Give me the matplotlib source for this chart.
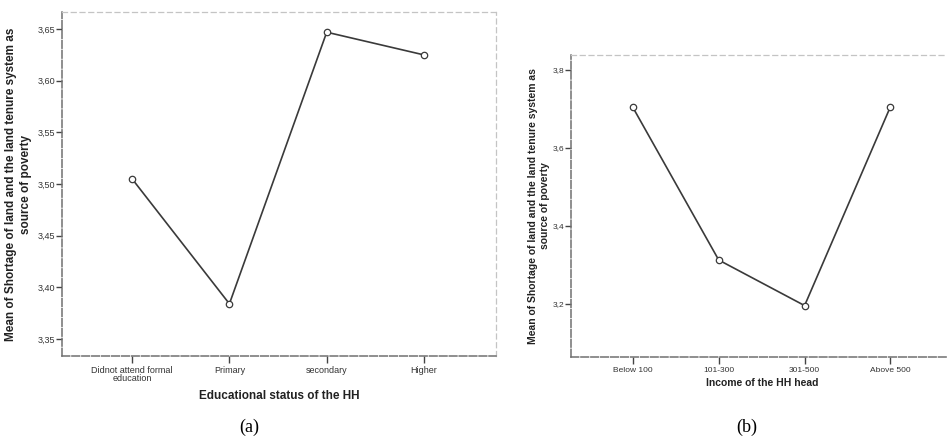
import matplotlib
matplotlib.use("Agg")
import matplotlib.pyplot as plt
from matplotlib.ticker import FuncFormatter

plt.rcParams['font.family'] = ['Liberation Sans', 'DejaVu Sans']

# panel (a)
edu_labels = ['Didnot attend formal\neducation', 'Primary', 'secondary', 'Higher']
edu_means = [3.505, 3.384, 3.647, 3.625]
edu_ticks = [3.35, 3.40, 3.45, 3.50, 3.55, 3.60, 3.65]

# panel (b)
inc_labels = ['Below 100', '101-300', '301-500', 'Above 500']
inc_means = [3.704, 3.312, 3.195, 3.706]
inc_ticks = [3.2, 3.4, 3.6, 3.8]

ylab = 'Mean of Shortage of land and the land tenure system as\nsource of poverty'

fig = plt.figure(figsize=(9.47, 4.37), dpi=100)
ax1 = fig.add_axes([0.0655, 0.1854, 0.4583, 0.787])
ax2 = fig.add_axes([0.603, 0.1831, 0.4044, 0.691])


def comma(nd):
    # decimal comma, as in the original SPSS output
    return FuncFormatter(lambda v, p: ('%.*f' % (nd, v)).replace('.', ','))


def style(ax, labels, vals, yt, nd, ylim, xlab, xlab_y, ylab_x, fs_lab, fs_tick, ls):
    x = list(range(len(labels)))
    ax.plot(x, vals, color='#3a3a3a', lw=1.2, marker='o', ms=4.6,
            mfc='white', mec='#3a3a3a', mew=0.9)
    ax.set_xlim(-0.72, len(labels) - 1 + 0.74)
    ax.set_ylim(*ylim)
    ax.set_xticks(x)
    ax.set_xticklabels(labels, fontsize=fs_tick, color='#333', linespacing=0.9)
    ax.set_yticks(yt)
    ax.yaxis.set_major_formatter(comma(nd))
    for t in ax.get_yticklabels():
        t.set_fontsize(fs_tick)
        t.set_color('#333')
    ax.tick_params(axis='y', length=4, width=1, color='#444', pad=1)
    ax.tick_params(axis='x', length=5, width=1, color='#444', pad=2)
    for s in ['left', 'bottom']:
        ax.spines[s].set_color('#707070')
        ax.spines[s].set_linestyle((0, (5, 1.5)))
        ax.spines[s].set_linewidth(1.1)
    for s in ['top', 'right']:
        ax.spines[s].set_color('#c4c4c4')
        ax.spines[s].set_linestyle((0, (4, 3)))
        ax.spines[s].set_linewidth(0.9)
    ax.set_xlabel(xlab, fontsize=fs_lab, fontweight='bold', color='#222')
    ax.xaxis.set_label_coords(0.5, xlab_y)
    ax.xaxis.label.set_va('center')
    ax.set_ylabel(ylab, fontsize=fs_lab, fontweight='bold', color='#222',
                  linespacing=ls)
    ax.yaxis.set_label_coords(ylab_x, 0.5)
    ax.yaxis.label.set_va('center')


style(ax1, edu_labels, edu_means, edu_ticks, 2, (3.3335, 3.6665),
      'Educational status of the HH', -0.116, -0.101, 8.5, 6.5, 1.3)
style(ax2, inc_labels, inc_means, inc_ticks, 1, (3.063, 3.8385),
      'Income of the HH head', -0.086, -0.0836, 7.5, 6.0, 1.3)

fig.text(249 / 947, 1 - 427 / 437, '(a)', fontsize=13, ha='center', va='center',
         family=['Liberation Serif', 'DejaVu Serif'])
fig.text(747 / 947, 1 - 427 / 437, '(b)', fontsize=13, ha='center', va='center',
         family=['Liberation Serif', 'DejaVu Serif'])

fig.savefig('out.png', dpi=100)
